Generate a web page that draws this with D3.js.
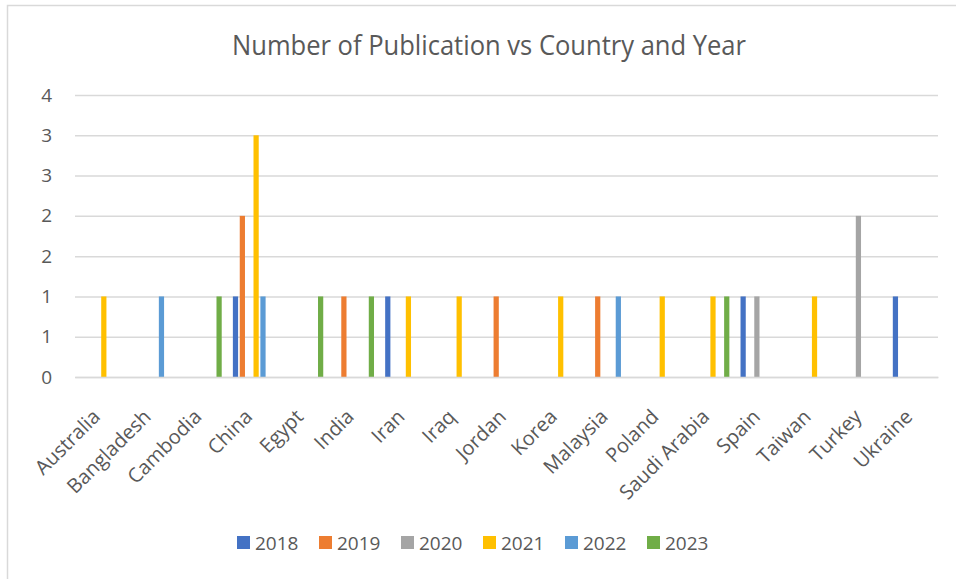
<!DOCTYPE html>
<html>
<head>
<meta charset="utf-8">
<script src="https://cdn.jsdelivr.net/npm/d3@7"></script>
<style>
  html, body { margin: 0; padding: 0; background: #fff; }
  text { font-family: "Open Sans", "Noto Sans", sans-serif; fill: #595959; }
</style>
</head>
<body>
<div id="chart"></div>
<script>
// chart data
var countries = ["Australia", "Bangladesh", "Cambodia", "China", "Egypt", "India", "Iran", "Iraq",
    "Jordan", "Korea", "Malaysia", "Poland", "Saudi Arabia", "Spain", "Taiwan", "Turkey", "Ukraine"];
var years = ["2018", "2019", "2020", "2021", "2022", "2023"];
var yearColors = ["#4472C4", "#ED7D31", "#A5A5A5", "#FFC000", "#5B9BD5", "#70AD47"];

//                 Au Ba Ca Ch Eg In Ir Iq Jo Ko Ma Po Sa Sp Ta Tu Uk
var values2018 = [0, 0, 0, 1, 0, 0, 1, 0, 0, 0, 0, 0, 0, 1, 0, 0, 1];
var values2019 = [0, 0, 0, 2, 0, 1, 0, 0, 1, 0, 1, 0, 0, 0, 0, 0, 0];
var values2020 = [0, 0, 0, 0, 0, 0, 0, 0, 0, 0, 0, 0, 0, 1, 0, 2, 0];
var values2021 = [1, 0, 0, 3, 0, 0, 1, 1, 0, 1, 0, 1, 1, 0, 1, 0, 0];
var values2022 = [0, 1, 0, 1, 0, 0, 0, 0, 0, 0, 1, 0, 0, 0, 0, 0, 0];
var values2023 = [0, 0, 1, 0, 1, 1, 0, 0, 0, 0, 0, 0, 1, 0, 0, 0, 0];
var seriesValues = [values2018, values2019, values2020, values2021, values2022, values2023];

var yTicks = [0, 0.5, 1, 1.5, 2, 2.5, 3, 3.5];
var titleText = "Number of Publication vs Country and Year";

var width = 956, height = 579;
var plot = { left: 75, right: 938, top: 95, bottom: 377 };

var svg = d3.select("#chart").append("svg")
    .attr("width", width)
    .attr("height", height);

// chart border (only left and top are visible in the crop)
svg.append("path")
    .attr("d", "M7.5," + height + "V5.5H" + width)
    .attr("fill", "none")
    .attr("stroke", "#D9D9D9")
    .attr("stroke-width", 1.5);

var x0 = d3.scaleBand()
    .domain(countries)
    .range([plot.left, plot.right]);

var groupWidth = 39.6;
var x1 = d3.scaleBand()
    .domain(years)
    .range([(x0.step() - groupWidth) / 2, (x0.step() + groupWidth) / 2])
    .paddingInner(0.24);

var y = d3.scaleLinear()
    .domain([0, 3.5])
    .range([plot.bottom, plot.top]);

//Gridlines and y labels
var yAxis = d3.axisLeft(y)
    .tickValues(yTicks)
    .tickSize(-(plot.right - plot.left))
    .tickPadding(23)
    .tickFormat(function (d) { return Math.round(d); });

var gy = svg.append("g")
    .attr("transform", "translate(" + plot.left + ",0)")
    .call(yAxis);
gy.select(".domain").remove();
gy.selectAll(".tick line")
    .attr("stroke", "#D9D9D9")
    .attr("stroke-width", 1.5);
gy.selectAll(".tick text")
    .attr("font-size", "19px")
    .attr("fill", "#595959")
    .attr("font-family", "Open Sans");

//Bars
var groups = svg.append("g").selectAll("g")
    .data(countries)
    .join("g")
    .attr("transform", function (d) { return "translate(" + x0(d) + ",0)"; });

groups.selectAll("rect")
    .data(function (d, i) {
        return years.map(function (yr, j) {
            return { year: yr, value: seriesValues[j][i], color: yearColors[j] };
        }).filter(function (b) { return b.value > 0; });
    })
    .join("rect")
    .attr("x", function (d) { return x1(d.year); })
    .attr("width", x1.bandwidth())
    .attr("y", function (d) { return y(d.value); })
    .attr("height", function (d) { return y(0) - y(d.value); })
    .attr("fill", function (d) { return d.color; });

//Category labels, rotated
var xAxis = d3.axisBottom(x0).tickSize(0).tickPadding(0);
var gx = svg.append("g")
    .attr("transform", "translate(0," + plot.bottom + ")")
    .call(xAxis);
gx.select(".domain")
    .attr("stroke", "#D9D9D9")
    .attr("stroke-width", 1.5);
gx.selectAll(".tick text")
    .attr("font-size", "20px")
    .attr("fill", "#595959")
    .attr("font-family", "Open Sans")
    .attr("text-anchor", "end")
    .attr("dy", 0)
    .attr("y", 0)
    .attr("transform", "translate(1,41) rotate(-45)");

//Title
var title = svg.append("text")
    .attr("x", 489)
    .attr("y", 55)
    .attr("text-anchor", "middle")
    .attr("font-size", "27px")
    .text(titleText);
var tw = title.node().getComputedTextLength();
if (tw > 514) {
    title.attr("textLength", 514).attr("lengthAdjust", "spacingAndGlyphs");
}

//Legend
var legend = svg.append("g").selectAll("g")
    .data(years)
    .join("g")
    .attr("transform", function (d, i) { return "translate(" + (237 + i * 82) + ",536)"; });

legend.append("rect")
    .attr("width", 13)
    .attr("height", 13)
    .attr("fill", function (d, i) { return yearColors[i]; });

legend.append("text")
    .attr("x", 18)
    .attr("y", 14)
    .attr("font-size", "19px")
    .text(function (d) { return d; });
</script>
</body>
</html>
